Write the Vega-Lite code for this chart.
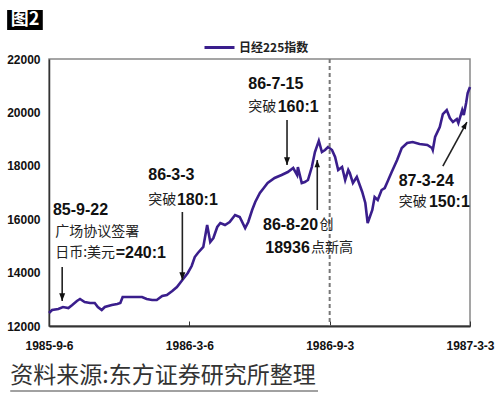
{
  "$schema": "https://vega.github.io/schema/vega-lite/v6.json",
  "width": 421,
  "height": 267,
  "autosize": {"type": "none"},
  "padding": {"left": 49, "top": 59, "right": 30, "bottom": 72},
  "background": "white",
  "config": {"view": {"stroke": "#888", "strokeWidth": 1.5}, "font": "Liberation Sans"},
  "datasets": {
    "index": [
      {"date": "1985-09-06", "val": 12487}, {"date": "1985-09-10", "val": 12599}, {"date": "1985-09-18", "val": 12637},
      {"date": "1985-09-24", "val": 12712}, {"date": "1985-10-01", "val": 12674}, {"date": "1985-10-06", "val": 12786},
      {"date": "1985-10-12", "val": 12936}, {"date": "1985-10-16", "val": 13011}, {"date": "1985-10-22", "val": 12899},
      {"date": "1985-10-29", "val": 12861}, {"date": "1985-11-04", "val": 12861}, {"date": "1985-11-08", "val": 12712},
      {"date": "1985-11-13", "val": 12599}, {"date": "1985-11-17", "val": 12712}, {"date": "1985-11-26", "val": 12786},
      {"date": "1985-12-03", "val": 12824}, {"date": "1985-12-07", "val": 12861}, {"date": "1985-12-10", "val": 13086},
      {"date": "1985-12-17", "val": 13086}, {"date": "1985-12-26", "val": 13086}, {"date": "1986-01-04", "val": 13086},
      {"date": "1986-01-10", "val": 13011}, {"date": "1986-01-17", "val": 12974}, {"date": "1986-01-23", "val": 12974},
      {"date": "1986-01-30", "val": 13124}, {"date": "1986-02-05", "val": 13161}, {"date": "1986-02-12", "val": 13311},
      {"date": "1986-02-18", "val": 13461}, {"date": "1986-02-25", "val": 13723}, {"date": "1986-03-04", "val": 13985},
      {"date": "1986-03-09", "val": 14247}, {"date": "1986-03-13", "val": 14584}, {"date": "1986-03-17", "val": 14734},
      {"date": "1986-03-24", "val": 14959}, {"date": "1986-03-29", "val": 15782}, {"date": "1986-04-02", "val": 15146},
      {"date": "1986-04-06", "val": 15296}, {"date": "1986-04-11", "val": 15708}, {"date": "1986-04-15", "val": 15857},
      {"date": "1986-04-21", "val": 15782}, {"date": "1986-04-27", "val": 15895}, {"date": "1986-05-04", "val": 16157},
      {"date": "1986-05-10", "val": 16082}, {"date": "1986-05-17", "val": 15670}, {"date": "1986-05-21", "val": 15895},
      {"date": "1986-05-26", "val": 16344}, {"date": "1986-05-30", "val": 16644}, {"date": "1986-06-05", "val": 16981},
      {"date": "1986-06-10", "val": 17168}, {"date": "1986-06-15", "val": 17355}, {"date": "1986-06-24", "val": 17543},
      {"date": "1986-07-03", "val": 17655}, {"date": "1986-07-11", "val": 17767}, {"date": "1986-07-18", "val": 17917},
      {"date": "1986-07-23", "val": 17655}, {"date": "1986-07-24", "val": 17955}, {"date": "1986-07-29", "val": 17355},
      {"date": "1986-08-02", "val": 17393}, {"date": "1986-08-06", "val": 17468}, {"date": "1986-08-11", "val": 17955},
      {"date": "1986-08-15", "val": 18516}, {"date": "1986-08-20", "val": 18936}, {"date": "1986-08-24", "val": 18516},
      {"date": "1986-08-28", "val": 18591}, {"date": "1986-09-01", "val": 18704}, {"date": "1986-09-06", "val": 18591},
      {"date": "1986-09-10", "val": 18329}, {"date": "1986-09-14", "val": 17842}, {"date": "1986-09-19", "val": 17955},
      {"date": "1986-09-23", "val": 17468}, {"date": "1986-09-27", "val": 17842}, {"date": "1986-09-29", "val": 17730},
      {"date": "1986-10-03", "val": 17355}, {"date": "1986-10-08", "val": 17580}, {"date": "1986-10-15", "val": 17018},
      {"date": "1986-10-19", "val": 16606}, {"date": "1986-10-22", "val": 15857}, {"date": "1986-10-28", "val": 16344},
      {"date": "1986-10-31", "val": 16831}, {"date": "1986-11-04", "val": 16719}, {"date": "1986-11-09", "val": 17093},
      {"date": "1986-11-13", "val": 17168}, {"date": "1986-11-17", "val": 17430}, {"date": "1986-11-22", "val": 17767},
      {"date": "1986-11-29", "val": 18217}, {"date": "1986-12-05", "val": 18666}, {"date": "1986-12-12", "val": 18853},
      {"date": "1986-12-19", "val": 18891}, {"date": "1986-12-28", "val": 18816}, {"date": "1987-01-07", "val": 18779},
      {"date": "1987-01-13", "val": 18666}, {"date": "1987-01-14", "val": 18591}, {"date": "1987-01-17", "val": 19078},
      {"date": "1987-01-23", "val": 19453}, {"date": "1987-01-27", "val": 19939}, {"date": "1987-02-01", "val": 20089},
      {"date": "1987-02-05", "val": 19790}, {"date": "1987-02-09", "val": 19640}, {"date": "1987-02-14", "val": 19752},
      {"date": "1987-02-16", "val": 19602}, {"date": "1987-02-21", "val": 20089}, {"date": "1987-02-23", "val": 19902},
      {"date": "1987-02-26", "val": 20351}, {"date": "1987-02-28", "val": 20726}, {"date": "1987-03-03", "val": 20950}
    ],
    "marker": [{"date": "1986-09-03"}],
    "arrows": [
      {"date": "1985-09-23", "val": 14210, "date2": "1985-09-23", "val2": 12936, "kind": "down"},
      {"date": "1986-02-25", "val": 16270, "date2": "1986-02-25", "val2": 13723, "kind": "down"},
      {"date": "1986-07-10", "val": 19715, "date2": "1986-07-10", "val2": 18030, "kind": "down"},
      {"date": "1986-08-18", "val": 16345, "date2": "1986-08-18", "val2": 18217, "kind": "up"},
      {"date": "1987-01-27", "val": 17992, "date2": "1987-02-27", "val2": 19640, "kind": "diag"}
    ],
    "notesBold": [
      {"date": "1985-09-11", "val": 16345, "label": "85-9-22"},
      {"date": "1985-12-01", "val": 14734, "label": "=240:1"},
      {"date": "1986-01-12", "val": 17655, "label": "86-3-3"},
      {"date": "1986-02-18", "val": 16719, "label": "180:1"},
      {"date": "1986-05-21", "val": 21064, "label": "86-7-15"},
      {"date": "1986-06-28", "val": 20202, "label": "160:1"},
      {"date": "1986-06-09", "val": 15783, "label": "86-8-20"},
      {"date": "1986-06-12", "val": 14921, "label": "18936"},
      {"date": "1986-12-01", "val": 17431, "label": "87-3-24"},
      {"date": "1987-01-09", "val": 16644, "label": "150:1"}
    ],
    "notesCjk": [
      {"date": "1985-09-14", "val": 15521, "label": "广场协议签署"},
      {"date": "1985-09-14", "val": 14734, "label": "日币:美元"},
      {"date": "1986-01-12", "val": 16719, "label": "突破"},
      {"date": "1986-05-21", "val": 20202, "label": "突破"},
      {"date": "1986-08-21", "val": 15783, "label": "创"},
      {"date": "1986-08-10", "val": 14921, "label": "点新高"},
      {"date": "1986-12-01", "val": 16644, "label": "突破"}
    ],
    "tagBox": [{"date": "1985-07-14", "date2": "1985-08-29", "val": 23835, "val2": 23086}],
    "tagText": [{"date": "1985-08-06", "val": 23461, "label": "图2"}],
    "source": [{"date": "1985-07-18", "val": 10127, "label": "资料来源:东方证券研究所整理"}],
    "underline": [{"date": "1985-07-18", "date2": "1986-08-19", "val": 9566}]
  },
  "layer": [
    {
      "data": {"name": "index"},
      "mark": {"type": "line", "strokeWidth": 2.6, "interpolate": "linear"},
      "encoding": {
        "x": {
          "field": "date", "type": "temporal", "title": null,
          "scale": {"type": "utc", "domain": [{"year": 1985, "month": 9, "date": 6, "utc": true}, {"year": 1987, "month": 3, "date": 3, "utc": true}]},
          "axis": {
            "title": null,
            "values": [
              {"year": 1985, "month": 9, "date": 6, "utc": true},
              {"year": 1986, "month": 3, "date": 6, "utc": true},
              {"year": 1986, "month": 9, "date": 3, "utc": true},
              {"year": 1987, "month": 3, "date": 3, "utc": true}
            ],
            "format": "%Y-%-m-%-d",
            "grid": false,
            "tickSize": -5,
            "tickColor": "#333",
            "labelPadding": 19,
            "labelFontSize": 12,
            "labelFontWeight": "bold",
            "labelColor": "#111",
            "labelFlush": false,
            "domainColor": "#333",
            "domainWidth": 2
          }
        },
        "y": {
          "field": "val", "type": "quantitative", "title": null,
          "scale": {"domain": [12000, 22000], "nice": false, "zero": false},
          "axis": {
            "title": null,
            "values": [12000, 14000, 16000, 18000, 20000, 22000],
            "format": "d",
            "grid": false,
            "ticks": false,
            "labelPadding": 9,
            "labelFontSize": 12,
            "labelFontWeight": "bold",
            "labelColor": "#111",
            "domainColor": "#333",
            "domainWidth": 1.5
          }
        },
        "color": {
          "datum": "日经225指数",
          "scale": {"range": ["#3a1e8c"]},
          "legend": {
            "title": null,
            "orient": "none",
            "legendX": 154,
            "legendY": -28,
            "symbolType": "stroke",
            "symbolSize": 900,
            "symbolStrokeWidth": 3,
            "labelFont": "Noto Sans CJK SC",
            "labelFontSize": 12,
            "labelFontWeight": "bold",
            "labelColor": "#222",
            "labelOffset": 3,
            "padding": 0
          }
        }
      }
    },
    {
      "data": {"name": "marker"},
      "mark": {"type": "rule", "color": "#777", "strokeWidth": 2, "strokeDash": [4, 3]},
      "encoding": {"x": {"field": "date", "type": "temporal", "title": null}}
    },
    {
      "data": {"name": "arrows"},
      "mark": {"type": "rule", "color": "#222", "strokeWidth": 1.6},
      "encoding": {
        "x": {"field": "date", "type": "temporal", "title": null},
        "y": {"field": "val", "type": "quantitative", "title": null},
        "x2": {"field": "date2"},
        "y2": {"field": "val2"}
      }
    },
    {
      "data": {"name": "arrows"},
      "transform": [{"filter": "datum.kind === 'down'"}],
      "mark": {"type": "point", "shape": "M0,0L-1,-2.6L1,-2.6Z", "size": 36, "filled": true, "color": "#111", "opacity": 1},
      "encoding": {
        "x": {"field": "date2", "type": "temporal", "title": null},
        "y": {"field": "val2", "type": "quantitative", "title": null}
      }
    },
    {
      "data": {"name": "arrows"},
      "transform": [{"filter": "datum.kind === 'up'"}],
      "mark": {"type": "point", "shape": "M0,0L-1,2.6L1,2.6Z", "size": 30, "filled": true, "color": "#111", "opacity": 1},
      "encoding": {
        "x": {"field": "date2", "type": "temporal", "title": null},
        "y": {"field": "val2", "type": "quantitative", "title": null}
      }
    },
    {
      "data": {"name": "arrows"},
      "transform": [{"filter": "datum.kind === 'diag'"}],
      "mark": {"type": "point", "shape": "M0,0L-1,2.6L1,2.6Z", "size": 30, "angle": 29, "filled": true, "color": "#111", "opacity": 1},
      "encoding": {
        "x": {"field": "date2", "type": "temporal", "title": null},
        "y": {"field": "val2", "type": "quantitative", "title": null}
      }
    },
    {
      "data": {"name": "notesBold"},
      "mark": {"type": "text", "align": "left", "baseline": "middle", "font": "Liberation Sans", "fontWeight": "bold", "fontSize": 16, "color": "#111"},
      "encoding": {
        "x": {"field": "date", "type": "temporal", "title": null},
        "y": {"field": "val", "type": "quantitative", "title": null},
        "text": {"field": "label"}
      }
    },
    {
      "data": {"name": "notesCjk"},
      "mark": {"type": "text", "align": "left", "baseline": "middle", "font": "Noto Sans CJK SC", "fontSize": 14, "color": "#222"},
      "encoding": {
        "x": {"field": "date", "type": "temporal", "title": null},
        "y": {"field": "val", "type": "quantitative", "title": null},
        "text": {"field": "label"}
      }
    },
    {
      "data": {"name": "tagBox"},
      "mark": {"type": "rect", "color": "#000"},
      "encoding": {
        "x": {"field": "date", "type": "temporal", "title": null},
        "x2": {"field": "date2"},
        "y": {"field": "val", "type": "quantitative", "title": null},
        "y2": {"field": "val2"}
      }
    },
    {
      "data": {"name": "tagText"},
      "mark": {"type": "text", "align": "center", "baseline": "middle", "font": "Noto Sans CJK SC", "fontWeight": "bold", "fontSize": 18, "color": "#fff"},
      "encoding": {
        "x": {"field": "date", "type": "temporal", "title": null},
        "y": {"field": "val", "type": "quantitative", "title": null},
        "text": {"field": "label"}
      }
    },
    {
      "data": {"name": "source"},
      "mark": {"type": "text", "align": "left", "baseline": "middle", "font": "Noto Sans CJK SC", "fontSize": 23, "color": "#333"},
      "encoding": {
        "x": {"field": "date", "type": "temporal", "title": null},
        "y": {"field": "val", "type": "quantitative", "title": null},
        "text": {"field": "label"}
      }
    },
    {
      "data": {"name": "underline"},
      "mark": {"type": "rule", "color": "#444", "strokeWidth": 1.2},
      "encoding": {
        "x": {"field": "date", "type": "temporal", "title": null},
        "x2": {"field": "date2"},
        "y": {"field": "val", "type": "quantitative", "title": null}
      }
    }
  ]
}
